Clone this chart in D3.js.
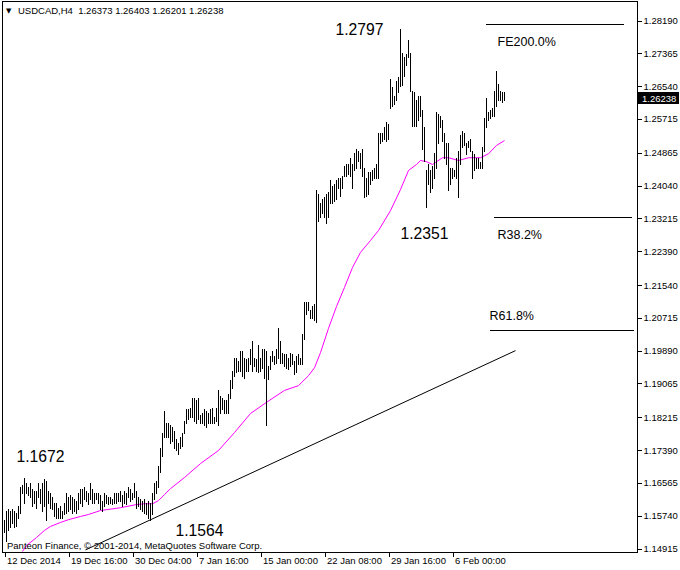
<!DOCTYPE html>
<html><head><meta charset="utf-8">
<script src="https://cdn.jsdelivr.net/npm/d3@7"></script>
<style>
body{margin:0;background:#fff;}
svg{display:block;font-family:"Liberation Sans",Arial,sans-serif;}
</style></head><body>
<svg id="c" width="680" height="570"></svg>
<script>
// ---------------- DATA ----------------
const symbolTitle = "USDCAD,H4";
const lastOHLC = ["1.26373","1.26403","1.26201","1.26238"];
const lastClose = 1.26238;
const watermark = "Panteon Finance, \u00A9 2001-2014, MetaQuotes Software Corp.";

const xTickIdx = [0,32,64,96,128,160,192,224];
const xTickLabels = ["12 Dec 2014","19 Dec 16:00","30 Dec 04:00","7 Jan 16:00","15 Jan 00:00","22 Jan 08:00","29 Jan 16:00","6 Feb 00:00"];
const yTicks = [1.28190,1.27365,1.26540,1.25715,1.24865,1.24040,1.23215,1.22390,1.21540,1.20715,1.19890,1.19065,1.18215,1.17390,1.16565,1.15740,1.14915];

const highs = [
1.1562,1.1587,1.1592,1.1587,1.1592,1.1587,1.1582,1.1599,1.1645,1.1650,
1.1670,1.1657,1.1645,1.1655,1.1642,1.1637,1.1637,1.1655,1.1642,1.1655,
1.1667,1.1662,1.1637,1.1630,1.1620,1.1607,1.1607,1.1594,1.1599,1.1587,
1.1607,1.1630,1.1620,1.1625,1.1620,1.1617,1.1612,1.1630,1.1642,1.1642,
1.1645,1.1637,1.1632,1.1657,1.1642,1.1632,1.1632,1.1630,1.1625,1.1612,
1.1630,1.1625,1.1620,1.1620,1.1617,1.1630,1.1632,1.1630,1.1637,1.1625,
1.1637,1.1632,1.1645,1.1642,1.1632,1.1655,1.1637,1.1620,1.1617,1.1612,
1.1617,1.1607,1.1612,1.1607,1.1630,1.1657,1.1662,1.1700,1.1745,1.1783,
1.1838,1.1808,1.1808,1.1801,1.1796,1.1788,1.1768,1.1758,1.1771,1.1781,
1.1813,1.1843,1.1843,1.1846,1.1869,1.1869,1.1864,1.1871,1.1826,1.1831,
1.1843,1.1838,1.1833,1.1843,1.1846,1.1821,1.1846,1.1889,1.1876,1.1871,
1.1864,1.1864,1.1881,1.1914,1.1939,1.1971,1.1971,1.1964,1.1989,1.1989,
1.1971,1.1969,1.1971,1.1994,1.2014,1.1971,1.1969,1.2002,1.1971,1.1992,
1.1992,1.1989,1.1951,1.1976,1.1989,1.1976,1.1994,1.2045,1.2014,1.1984,
1.1981,1.1981,1.1971,1.1984,1.1981,1.1964,1.1976,1.1981,1.1971,1.2032,
1.2110,1.2110,1.2110,1.2090,1.2102,1.2107,1.2392,1.2384,1.2361,1.2371,
1.2374,1.2384,1.2387,1.2417,1.2404,1.2409,1.2417,1.2424,1.2422,1.2429,
1.2454,1.2459,1.2459,1.2474,1.2459,1.2487,1.2497,1.2492,1.2487,1.2497,
1.2447,1.2424,1.2437,1.2437,1.2442,1.2449,1.2459,1.2535,1.2535,1.2535,
1.2550,1.2563,1.2560,1.2673,1.2651,1.2630,1.2668,1.2676,1.2797,1.2738,
1.2726,1.2736,1.2769,1.2738,1.2643,1.2638,1.2618,1.2630,1.2630,1.2593,
1.2550,1.2442,1.2459,1.2442,1.2454,1.2487,1.2588,1.2585,1.2580,1.2568,
1.2537,1.2512,1.2510,1.2447,1.2447,1.2442,1.2474,1.2492,1.2530,1.2542,
1.2535,1.2512,1.2517,1.2522,1.2492,1.2484,1.2474,1.2474,1.2462,1.2500,
1.2575,1.2623,1.2588,1.2593,1.2598,1.2643,1.2693,1.2660,1.2643,1.2638,
1.2640];

const lows = [
1.1532,1.1511,1.1537,1.1545,1.1555,1.1545,1.1549,1.1567,1.1582,1.1630,
1.1607,1.1630,1.1625,1.1620,1.1599,1.1607,1.1594,1.1620,1.1607,1.1587,
1.1599,1.1562,1.1607,1.1594,1.1592,1.1574,1.1569,1.1567,1.1569,1.1567,
1.1579,1.1582,1.1587,1.1592,1.1582,1.1587,1.1582,1.1592,1.1607,1.1599,
1.1617,1.1612,1.1604,1.1617,1.1607,1.1607,1.1617,1.1607,1.1592,1.1587,
1.1599,1.1607,1.1604,1.1607,1.1604,1.1607,1.1607,1.1612,1.1612,1.1599,
1.1607,1.1604,1.1620,1.1612,1.1617,1.1620,1.1594,1.1599,1.1592,1.1587,
1.1582,1.1579,1.1569,1.1564,1.1579,1.1617,1.1630,1.1647,1.1683,1.1725,
1.1771,1.1771,1.1771,1.1758,1.1763,1.1743,1.1738,1.1730,1.1745,1.1750,
1.1781,1.1806,1.1818,1.1821,1.1821,1.1813,1.1808,1.1818,1.1806,1.1808,
1.1801,1.1796,1.1808,1.1806,1.1808,1.1808,1.1813,1.1801,1.1831,1.1843,
1.1833,1.1833,1.1831,1.1871,1.1896,1.1926,1.1934,1.1939,1.1939,1.1926,
1.1921,1.1939,1.1939,1.1956,1.1939,1.1951,1.1939,1.1934,1.1939,1.1946,
1.1921,1.1801,1.1918,1.1944,1.1964,1.1956,1.1959,1.1971,1.1959,1.1959,
1.1951,1.1946,1.1944,1.1951,1.1956,1.1931,1.1934,1.1956,1.1956,1.1956,
1.2019,1.2082,1.2090,1.2072,1.2070,1.2065,1.2060,1.2316,1.2324,1.2336,
1.2324,1.2309,1.2324,1.2359,1.2361,1.2366,1.2371,1.2399,1.2379,1.2397,
1.2429,1.2429,1.2434,1.2429,1.2399,1.2442,1.2449,1.2467,1.2447,1.2429,
1.2374,1.2379,1.2384,1.2409,1.2417,1.2422,1.2424,1.2424,1.2512,1.2517,
1.2522,1.2517,1.2522,1.2598,1.2605,1.2610,1.2618,1.2638,1.2655,1.2658,
1.2680,1.2706,1.2726,1.2643,1.2555,1.2553,1.2555,1.2568,1.2580,1.2497,
1.2467,1.2351,1.2409,1.2387,1.2399,1.2424,1.2447,1.2510,1.2550,1.2517,
1.2474,1.2459,1.2392,1.2409,1.2424,1.2429,1.2424,1.2374,1.2459,1.2500,
1.2505,1.2484,1.2500,1.2492,1.2424,1.2442,1.2449,1.2447,1.2449,1.2449,
1.2492,1.2550,1.2568,1.2573,1.2580,1.2580,1.2605,1.2618,1.2618,1.2613,
1.2620];

// moving average (read at sample bars)
const maIdx = [9,11,16,20,23,28,32,38,42,48,58,66,70,74,77,80,83,90,98,107,115,123,131,140,147,152,155,158,162,166,170,174,178,183,187,193,198,202,206,208,211,214,219,222,227,232,238,242,246,250];
const maVal = [1.1484,1.1499,1.1519,1.1537,1.1547,1.1557,1.1564,1.1572,1.1577,1.1587,1.1594,1.1602,1.1604,1.1604,1.1612,1.1627,1.1642,1.1670,1.1705,1.1738,1.1783,1.1831,1.1859,1.1889,1.1901,1.1926,1.1946,1.1984,1.2045,1.2100,1.2148,1.2198,1.2236,1.2266,1.2291,1.2341,1.2394,1.2442,1.2457,1.2467,1.2464,1.2457,1.2474,1.2474,1.2467,1.2474,1.2474,1.2484,1.2505,1.2517];

// trend line anchors (bar index, price)
const trendIdx = [40.5, 255.5];
const trendPrice = [1.1488, 1.1989];

// Fibonacci levels
const levelNames = ["FE200.0%","R38.2%","R61.8%"];
const levelPrices = [1.2809, 1.2326, 1.2040];
const levelStart = [240.5, 244.5, 242.5];
const levelEnd = [309.5, 313.5, 314.5];

// swing labels
const pivotText = ["1.2797","1.2351","1.1672","1.1564"];
const pivotIdx = [198, 211, 10, 73];
const pivotPrice = [1.2797, 1.2351, 1.1670, 1.1564];

// ---------------- DRAW ----------------
const svg = d3.select("#c");
const P = {left:3, top:2, right:637, bottom:552};
const x = d3.scaleLinear().domain([0, 250]).range([4.5, 504.5]);
const y = d3.scaleLinear().domain([1.14915, 1.28190]).range([548.5, 20.5]);

svg.append("defs").append("clipPath").attr("id","clip")
  .append("rect").attr("x",P.left).attr("y",P.top).attr("width",P.right-P.left).attr("height",P.bottom-P.top);

svg.append("rect").attr("width",680).attr("height",570).attr("fill","#fff");

const g = svg.append("g").attr("clip-path","url(#clip)");

// trend line
g.append("line")
  .attr("x1", x(trendIdx[0])).attr("y1", y(trendPrice[0]))
  .attr("x2", x(trendIdx[1])).attr("y2", y(trendPrice[1]))
  .attr("stroke","#000").attr("stroke-width",1);

// fib levels
levelNames.forEach((n,k)=>{
  g.append("line").attr("x1",x(levelStart[k])).attr("x2",x(levelEnd[k]))
    .attr("y1",Math.round(y(levelPrices[k]))+0.5).attr("y2",Math.round(y(levelPrices[k]))+0.5)
    .attr("stroke","#000").attr("stroke-width",1).attr("shape-rendering","crispEdges");
});
const levelDx = [12, 4, 0], levelDy = [21.5, 22, -10];
levelNames.forEach((n,k)=>{
  svg.append("text").attr("x", x(levelStart[k]) + levelDx[k]).attr("y", y(levelPrices[k]) + levelDy[k])
    .attr("font-size","12.5px").attr("fill","#000").text(n);
});

// MA
const line = d3.line().x(d=>x(d[0])).y(d=>y(d[1]));
g.append("path").datum(maIdx.map((d,i)=>[d,maVal[i]]))
  .attr("d",line).attr("fill","none").attr("stroke","#ff00ff").attr("stroke-width",1);

// bars
g.append("g").selectAll("line").data(highs).join("line")
  .attr("x1",(d,i)=>x(i)).attr("x2",(d,i)=>x(i))
  .attr("y1",d=>Math.round(y(d)))
  .attr("y2",(d,i)=>Math.round(y(lows[i]))+1)
  .attr("stroke","#000").attr("stroke-width",1).attr("shape-rendering","crispEdges");

// pivot labels
const pdx = [-65, -26, -8, 25], pdy = [5.5, 32, -16, 16.5];
pivotText.forEach((t,k)=>{
  svg.append("text").attr("x", x(pivotIdx[k]) + pdx[k]).attr("y", y(pivotPrice[k]) + pdy[k])
    .attr("font-size","15.7px").attr("fill","#000").text(t);
});

// frame
svg.append("rect").attr("x",P.left-0.5).attr("y",P.top-0.5)
  .attr("width",P.right-P.left+1).attr("height",P.bottom-P.top+1)
  .attr("fill","none").attr("stroke","#000").attr("shape-rendering","crispEdges");

// y axis
const ya = svg.append("g").attr("transform",`translate(${P.right+0.5},0)`)
  .call(d3.axisRight(y).tickValues(yTicks).tickSize(4).tickPadding(2).tickFormat(d3.format(".5f")));
ya.select(".domain").remove();
ya.selectAll("line").attr("stroke","#000").attr("shape-rendering","crispEdges");
ya.selectAll("text").attr("font-size","9.5px").attr("font-family","Liberation Sans, Arial, sans-serif").attr("fill","#000");

// current price marker
const yc = Math.round(y(lastClose));
svg.append("rect").attr("x",P.right+1).attr("y",yc-6).attr("width",41).attr("height",12).attr("fill","#000");
svg.append("text").attr("x",P.right+5).attr("y",yc+4).attr("font-size","9.5px").attr("fill","#fff").text(d3.format(".5f")(lastClose));

// x axis
const xa = svg.append("g").attr("transform",`translate(0,${P.bottom+0.5})`)
  .call(d3.axisBottom(x).tickValues(xTickIdx).tickSize(4).tickFormat((d,i)=>xTickLabels[i]));
xa.select(".domain").remove();
xa.selectAll("line").attr("stroke","#000").attr("shape-rendering","crispEdges");
xa.selectAll("text").attr("font-size","9.5px").attr("font-family","Liberation Sans, Arial, sans-serif")
  .attr("fill","#000").attr("text-anchor","start").attr("dx","2").attr("y",11.5).attr("dy","0");

// title
svg.append("text").attr("x",6).attr("y",13).attr("font-size","7px").attr("font-family","DejaVu Sans").text("\u25BC");
svg.append("text").attr("x",18).attr("y",14).attr("font-size","9.5px").attr("fill","#000")
  .attr("xml:space","preserve").text(symbolTitle + "  " + lastOHLC.join(" "));

// watermark
svg.append("text").attr("x",7).attr("y",548.5).attr("font-size","9.5px").attr("fill","#000").text(watermark);
</script>
</body></html>
